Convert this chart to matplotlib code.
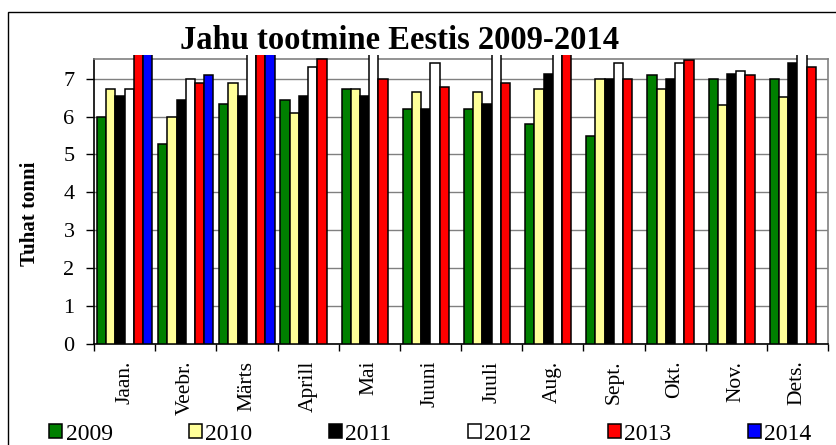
import matplotlib
matplotlib.use("Agg")
import matplotlib.pyplot as plt
from matplotlib.patches import Rectangle
import numpy as np

months = ["Jaan.", "Veebr.", "Märts", "Aprill", "Mai", "Juuni", "Juuli",
          "Aug.", "Sept.", "Okt.", "Nov.", "Dets."]
years = ["2009", "2010", "2011", "2012", "2013", "2014"]
v2009 = [6.00, 5.28, 6.32, 6.43, 6.73, 6.21, 6.21, 5.79, 5.48, 7.10, 7.00, 7.00]
v2010 = [6.73, 6.00, 6.89, 6.10, 6.73, 6.65, 6.65, 6.73, 7.00, 6.72, 6.31, 6.51]
v2011 = [6.54, 6.43, 6.54, 6.54, 6.54, 6.21, 6.34, 7.11, 7.00, 7.00, 7.11, 7.42]
v2012 = [6.73, 7.00, 8.00, 7.30, 8.00, 7.41, 8.00, 8.00, 7.41, 7.41, 7.20, 8.00]
v2013 = [8.00, 6.89, 8.00, 7.52, 7.00, 6.79, 6.89, 8.00, 7.00, 7.50, 7.10, 7.30]
v2014 = [8.00, 7.10, 8.00, np.nan, np.nan, np.nan, np.nan, np.nan, np.nan, np.nan, np.nan, np.nan]
series = [v2009, v2010, v2011, v2012, v2013, v2014]
colors = ["#008000", "#FFFF99", "#000000", "#FFFFFF", "#FF0000", "#0000FF"]

plt.rcParams['font.family'] = ['Liberation Serif', 'DejaVu Serif']

W, H = 836, 445
fig = plt.figure(figsize=(W / 100, H / 100), dpi=100)

# outer border
fig.patches.append(Rectangle((8 / W, -0.1), 1.2, 1 - 12 / H + 0.1,
                             transform=fig.transFigure, fill=False,
                             edgecolor='black', linewidth=1.0))

ax_l, ax_r, ax_t, ax_b = 94, 828, 58.5, 344
ax = fig.add_axes([ax_l / W, 1 - ax_b / H, (ax_r - ax_l) / W, (ax_b - ax_t) / H])

ymax = 7.53
ax.set_ylim(0, ymax)
ax.set_xlim(-0.5, len(months) - 0.5)

n = len(series)
total = 0.907
bw = total / n
x = np.arange(len(months))
clip = Rectangle((0, 0), 1, 1 + 3.5 / (ax_b - ax_t), transform=ax.transAxes,
                 fill=False, visible=False)
ax.add_patch(clip)
handles = []
for i, (vals, c) in enumerate(zip(series, colors)):
    pos = x - total / 2 + bw * (i + 0.5)
    bars = ax.bar(pos, vals, width=bw, color=c, edgecolor='black',
                  linewidth=1.1, zorder=3, label=years[i])
    for b in bars:
        b.set_clip_path(clip)
    handles.append(bars)

ax.set_yticks(range(0, 8))
ax.grid(axis='y', color='#808080', linewidth=1.0, zorder=0)
ax.set_axisbelow(True)
ax.set_xticks(np.arange(-0.5, len(months) + 0.5, 1.0))
ax.set_xticklabels([])
ax.set_xticks(x, minor=True)
ax.set_xticklabels(months, minor=True, rotation=90, fontsize=15.5)
ax.tick_params(axis='x', which='minor', length=0, pad=12)
ax.tick_params(axis='x', which='major', length=5, width=1, direction='out')
ax.tick_params(axis='y', length=6, width=1, direction='out', labelsize=16, pad=8)
for lab in ax.get_xticklabels(minor=True):
    lab.set_va('top')
ax.spines['top'].set_color('#808080')
ax.spines['right'].set_color('#808080')
ax.spines['left'].set_color('black')
ax.spines['bottom'].set_color('black')
for s in ax.spines.values():
    s.set_linewidth(1.2)

fig.text(30 / W, 1 - 214 / H, "Tuhat tonni", rotation=90, ha='center',
         va='center', fontsize=15, fontweight='bold')

fig.text(400 / W, 1 - 49 / H, "Jahu tootmine Eestis 2009-2014",
         ha='center', va='baseline', fontsize=23.5, fontweight='bold')

fig.legend(handles=handles, labels=years, loc='center',
           bbox_to_anchor=(430.5 / W, 1 - 434 / H), ncol=6, frameon=False,
           fontsize=17, handlelength=0.55, handleheight=0.55,
           handletextpad=0.13, columnspacing=3.25, borderpad=0)

fig.savefig("out.png", dpi=100)
